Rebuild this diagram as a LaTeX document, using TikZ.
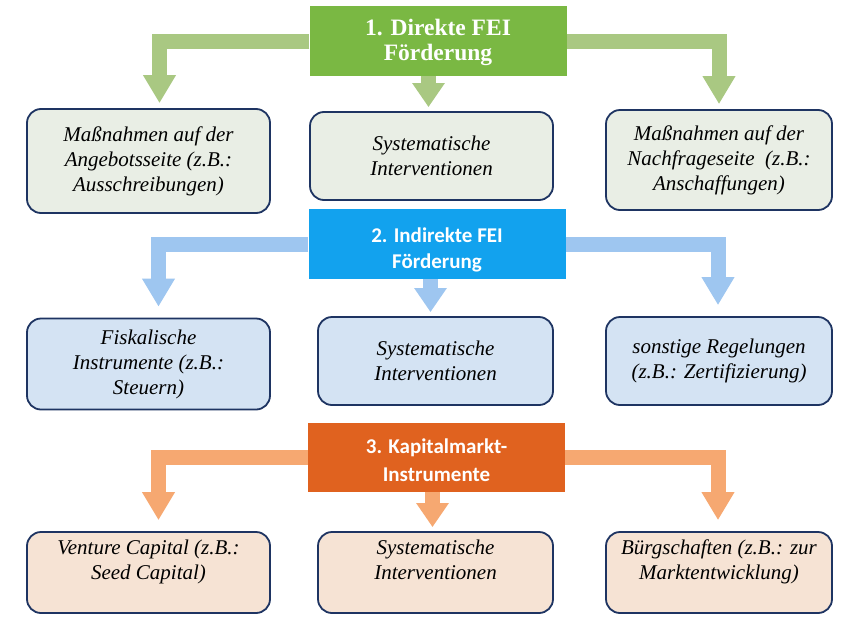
\documentclass[tikz,border=0pt]{standalone}
\usepackage{fontspec}
\setmainfont{Liberation Serif}
\newfontfamily\hdsans{Carlito}
\usetikzlibrary{arrows.meta}

\definecolor{navy}{HTML}{1E3462}
\definecolor{gHead}{HTML}{7AB843}
\definecolor{gArrow}{HTML}{A9C882}
\definecolor{gFill}{HTML}{E9EEE5}
\definecolor{bHead}{HTML}{12A2EE}
\definecolor{bArrow}{HTML}{9EC6F0}
\definecolor{bFill}{HTML}{D4E3F3}
\definecolor{oHead}{HTML}{E0621F}
\definecolor{oArrow}{HTML}{F6A871}
\definecolor{oFill}{HTML}{F6E3D4}

\tikzset{
  hdr/.style={minimum width=257pt, minimum height=70pt, inner sep=0pt},
  hdrtext/.style={text=white, align=center, inner sep=0pt},
  box/.style={draw=navy, line width=1.8pt, rounded corners=14pt, align=center,
    inner sep=0pt, font=\fontsize{21}{25}\selectfont\itshape},
  blk/.style={line width=15pt, -{Triangle[width=31pt,length=28pt]}},
  blkshort/.style={line width=15pt, -{Triangle[width=31pt,length=24pt]}},
}

\begin{document}
\begin{tikzpicture}[x=1pt,y=-1pt]
\fill[white] (0,0) rectangle (848,616);
\useasboundingbox (0,0) rectangle (848,616);

% ---------- 1. Direkte FEI Foerderung ----------
\node[hdr, fill=gHead] (h1) at (438,41) {};
\node[hdrtext, font=\fontsize{23.5}{25}\selectfont\bfseries] (t1) at ([yshift=-1pt]h1.center)
  {1. Direkte FEI\\Förderung};

\node[box, fill=gFill, minimum width=243pt, minimum height=104pt] (c11) at (148.5,161)
  {Maßnahmen auf der\\Angebotsseite (z.B.:\\Ausschreibungen)};
\node[box, fill=gFill, minimum width=243pt, minimum height=88pt] (c12) at (431.5,156)
  {Systematische\\Interventionen};
\node[box, fill=gFill, minimum width=226pt, minimum height=100pt] (c13) at (719,160)
  {Maßnahmen auf der\\Nachfrageseite\ \ (z.B.:\\Anschaffungen)};

\draw[blk, gArrow, shorten >=5pt] (h1.west) -| ([xshift=11pt]c11.north);
\draw[blkshort, gArrow, shorten >=4pt] ([xshift=-3pt]c12.north |- h1.south) -- ([xshift=-3pt]c12.north);
\draw[blk, gArrow, shorten >=5pt] (h1.east) -| (c13.north);

% ---------- 2. Indirekte FEI Foerderung ----------
\node[hdr, fill=bHead] (h2) at (437,244) {};
\begin{scope}
  \clip (h2.south west) rectangle (h2.north east);
  \node[hdrtext, font=\hdsans\fontsize{21}{26}\selectfont\bfseries] (t2)
    at ([yshift=-6pt]h2.center) {2. Indirekte FEI\\Förderung};
\end{scope}

\node[box, fill=bFill, minimum width=243pt, minimum height=91pt] (c21) at (148.5,364)
  {Fiskalische\\Instrumente (z.B.:\\Steuern)};
\node[box, fill=bFill, minimum width=235pt, minimum height=88pt] (c22) at (435.5,361)
  {Systematische\\Interventionen};
\node[box, fill=bFill, minimum width=226pt, minimum height=88pt] (c23) at (719,361)
  {sonstige Regelungen\\(z.B.: Zertifizierung)};

\draw[blk, bArrow, shorten >=11pt] (h2.west) -| ([xshift=10pt]c21.north);
\draw[blkshort, bArrow, shorten >=4pt] ([xshift=-5pt]c22.north |- h2.south) -- ([xshift=-5pt]c22.north);
\draw[blk, bArrow, shorten >=11pt] (h2.east) -| ([xshift=-1pt]c23.north);

% ---------- 3. Kapitalmarkt-Instrumente ----------
\node[hdr, fill=oHead, minimum height=69pt] (h3) at (436.5,457.5) {};
\node[hdrtext, font=\hdsans\fontsize{21}{28}\selectfont\bfseries] (t3)
  at ([yshift=-3pt]h3.center) {3. Kapitalmarkt-\\Instrumente};

\node[box, fill=oFill, minimum width=243pt, minimum height=81pt, text depth=26pt] (c31) at (148.5,572.5)
  {Venture Capital (z.B.:\\Seed Capital)};
\node[box, fill=oFill, minimum width=235pt, minimum height=81pt, text depth=26pt] (c32) at (435.5,572.5)
  {Systematische\\Interventionen};
\node[box, fill=oFill, minimum width=226pt, minimum height=81pt, text depth=26pt] (c33) at (719,572.5)
  {Bürgschaften (z.B.: zur\\Marktentwicklung)};

\draw[blk, oArrow, shorten >=11pt] (h3.west) -| ([xshift=10pt]c31.north);
\draw[blkshort, oArrow, shorten >=4pt] ([xshift=-3pt]c32.north |- h3.south) -- ([xshift=-3pt]c32.north);
\draw[blk, oArrow, shorten >=11pt] (h3.east) -| ([xshift=-1pt]c33.north);
\end{tikzpicture}
\end{document}
